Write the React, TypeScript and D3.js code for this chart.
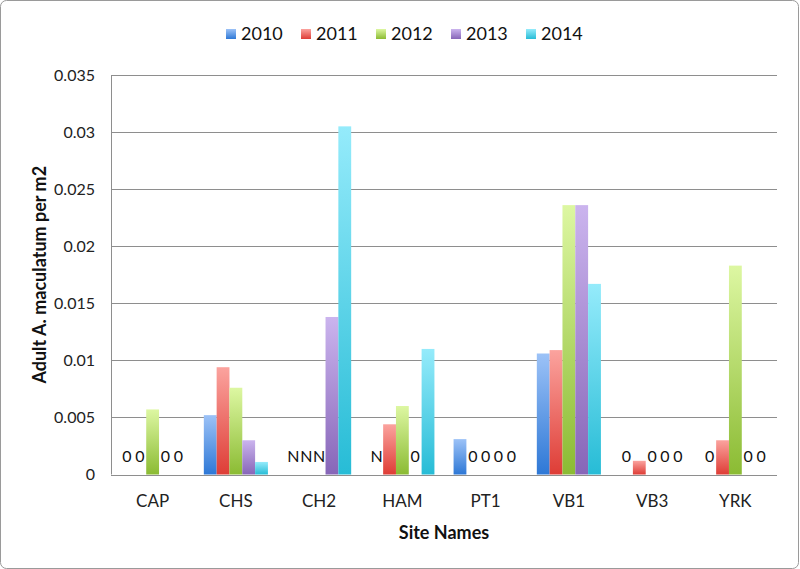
import React, { useEffect, useRef } from "react";
import * as d3 from "d3";

const sites = ["CAP", "CHS", "CH2", "HAM", "PT1", "VB1", "VB3", "YRK"];
const years = ["2010", "2011", "2012", "2013", "2014"];
// null = no data (shown as "N")
const v2010 = [0, 0.0052, null, null, 0.0031, 0.0106, 0, 0];
const v2011 = [0, 0.0094, null, 0.0044, 0, 0.0109, 0.0012, 0.003];
const v2012 = [0.0057, 0.0076, null, 0.006, 0, 0.0236, 0, 0.0183];
const v2013 = [0, 0.003, 0.0138, 0, 0, 0.0236, 0, 0];
const v2014 = [0, 0.0011, 0.0305, 0.011, 0, 0.0167, 0, 0];
const yTicks = [0, 0.005, 0.01, 0.015, 0.02, 0.025, 0.03, 0.035];
const yTickLabels = ["0", "0.005", "0.01", "0.015", "0.02", "0.025", "0.03", "0.035"];

const seriesValues = [v2010, v2011, v2012, v2013, v2014];
const colors = [
  ["#9cc2f7", "#2e78d6"],
  ["#fba39e", "#de3d36"],
  ["#ddf7a2", "#8bbb33"],
  ["#cbb4ee", "#8766b8"],
  ["#95ebfb", "#27bcd6"],
];

const W = 800,
  H = 569;
const FONT = "Lato, 'Liberation Sans', sans-serif";

const App = () => {
  const ref = useRef<SVGSVGElement>(null);

  useEffect(() => {
    const svg = d3.select(ref.current);
    svg.selectAll("*").remove();

    const plot = { left: 111, right: 777, top: 75, bottom: 474.5 };

    const defs = svg.append("defs");
    colors.forEach((c, i) => {
      const g = defs
        .append("linearGradient")
        .attr("id", `grad${i}`)
        .attr("x1", 0)
        .attr("y1", 0)
        .attr("x2", 0)
        .attr("y2", 1);
      g.append("stop").attr("offset", "0%").attr("stop-color", c[0]);
      g.append("stop").attr("offset", "100%").attr("stop-color", c[1]);
    });

    svg
      .append("rect")
      .attr("x", 0.5)
      .attr("y", 0.5)
      .attr("width", W - 2)
      .attr("height", H - 1)
      .attr("rx", 6)
      .attr("fill", "#fff")
      .attr("stroke", "#9a9a9a");

    const x0 = d3.scaleBand().domain(sites).range([plot.left, plot.right]);
    const gap = x0.bandwidth() * 0.23;
    const x1 = d3
      .scaleBand()
      .domain(years)
      .range([gap / 2, x0.bandwidth() - gap / 2]);
    const y = d3.scaleLinear().domain([0, 0.035]).range([plot.bottom, plot.top]);

    // gridlines
    svg
      .append("g")
      .selectAll("line")
      .data(yTicks)
      .join("line")
      .attr("x1", plot.left)
      .attr("x2", plot.right)
      .attr("y1", (d) => Math.round(y(d)) + 0.5)
      .attr("y2", (d) => Math.round(y(d)) + 0.5)
      .attr("stroke", "#8e8e8e")
      .attr("stroke-width", 1);

    // y tick labels
    svg
      .append("g")
      .selectAll("text")
      .data(yTicks)
      .join("text")
      .attr("x", 95)
      .attr("y", (d) => y(d) + 5.5)
      .attr("text-anchor", "end")
      .attr("font-family", FONT)
      .attr("font-size", 16)
      .attr("fill", "#222")
      .text((d, i) => yTickLabels[i]);

    // bars
    const groups = svg
      .append("g")
      .selectAll("g")
      .data(sites)
      .join("g")
      .attr("transform", (d) => `translate(${x0(d)},0)`);

    groups.each(function (site, si) {
      const g = d3.select(this);
      const rows = years.map((yr, k) => ({ yr, k, v: seriesValues[k][si] }));
      g.selectAll("rect")
        .data(rows.filter((r) => r.v !== null && r.v > 0))
        .join("rect")
        .attr("x", (r) => x1(r.yr)!)
        .attr("y", (r) => y(r.v as number))
        .attr("width", x1.bandwidth())
        .attr("height", (r) => plot.bottom - y(r.v as number))
        .attr("fill", (r) => `url(#grad${r.k})`);
      g.selectAll("text")
        .data(rows.filter((r) => r.v === null || r.v === 0))
        .join("text")
        .attr("x", (r) => x1(r.yr)! + x1.bandwidth() / 2)
        .attr("y", plot.bottom - 13)
        .attr("text-anchor", "middle")
        .attr("font-family", FONT)
        .attr("font-size", 16)
        .attr("fill", "#111")
        .text((r) => (r.v === null ? "N" : "0"));
    });

    // axes lines
    svg
      .append("line")
      .attr("x1", plot.left + 0.5)
      .attr("x2", plot.left + 0.5)
      .attr("y1", plot.top)
      .attr("y2", plot.bottom)
      .attr("stroke", "#8e8e8e");
    svg
      .append("line")
      .attr("x1", plot.left)
      .attr("x2", plot.right)
      .attr("y1", Math.round(plot.bottom) + 0.5)
      .attr("y2", Math.round(plot.bottom) + 0.5)
      .attr("stroke", "#8e8e8e");

    // category labels
    svg
      .append("g")
      .selectAll("text")
      .data(sites)
      .join("text")
      .attr("x", (d) => x0(d)! + x0.bandwidth() / 2)
      .attr("y", 507)
      .attr("text-anchor", "middle")
      .attr("font-family", FONT)
      .attr("font-size", 17)
      .attr("fill", "#222")
      .text((d) => d);

    // axis titles
    svg
      .append("text")
      .attr("x", (plot.left + plot.right) / 2)
      .attr("y", 539)
      .attr("text-anchor", "middle")
      .attr("font-family", FONT)
      .attr("font-weight", "bold")
      .attr("font-size", 18)
      .attr("fill", "#111")
      .text("Site Names");
    svg
      .append("text")
      .attr("transform", `translate(46,${(plot.top + plot.bottom) / 2}) rotate(-90)`)
      .attr("text-anchor", "middle")
      .attr("font-family", FONT)
      .attr("font-weight", "bold")
      .attr("font-size", 18)
      .attr("fill", "#111")
      .text("Adult A. maculatum per m2");

    // legend
    const legend = svg
      .append("g")
      .selectAll("g")
      .data(years)
      .join("g")
      .attr("transform", (d, i) => `translate(${226 + i * 75},0)`);
    legend
      .append("rect")
      .attr("x", 0)
      .attr("y", 29)
      .attr("width", 10)
      .attr("height", 10)
      .attr("fill", (d, i) => `url(#grad${i})`);
    legend
      .append("text")
      .attr("x", 15)
      .attr("y", 40)
      .attr("font-family", FONT)
      .attr("font-size", 18)
      .attr("fill", "#111")
      .text((d) => d);
  }, []);

  return (
    <svg
      ref={ref}
      width={W}
      height={H}
      style={{ position: "absolute", left: 0, top: 0, display: "block" }}
    />
  );
};

export default App;
